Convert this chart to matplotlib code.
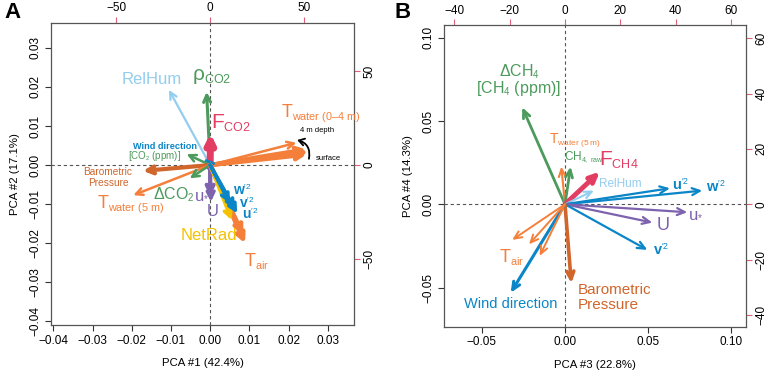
import matplotlib
matplotlib.use("Agg")
import matplotlib.pyplot as plt
import numpy as np
try:
    import matplotlib._mathtext as _mt
    _mt.SHRINK_FACTOR = 0.6
except Exception:
    pass

plt.rcParams['font.family'] = ['Liberation Sans', 'DejaVu Sans']
plt.rcParams['mathtext.fontset'] = 'custom'
plt.rcParams['mathtext.rm'] = 'Liberation Sans'
plt.rcParams['mathtext.it'] = 'Liberation Sans:italic'
plt.rcParams['mathtext.bf'] = 'Liberation Sans:bold'

GREEN = '#4c9a5c'
CRIM = '#e23d62'
ORANGE = '#f47f3a'
BROWN = '#d0662c'
LBLUE = '#93cdef'
BLUE = '#0a86c8'
PURPLE = '#7d62ad'
YELLOW = '#f5c200'
TICKRED = '#e0607a'

# ---------------- Panel A data (PCA #1 vs PCA #2) ----------------
a_names = ['RelHum', 'rhoCO2', 'FCO2', 'Twater_4m', 'Twater_s1', 'Twater_s2', 'Twater_s3',
           'WindDir', 'CO2ppm', 'Baro', 'Twater5', 'dCO2', 'U', 'ustar',
           'Tair1', 'Tair2', 'NetRad', 'w2', 'v2', 'u2']
a_x = [-0.0105, -0.0009, 0.0001, 0.0220, 0.0245, 0.0250, 0.0246,
       -0.0016, -0.0060, -0.0171, -0.0196, -0.0052, 0.0000, 0.0002,
       0.0084, 0.0089, 0.0055, 0.0050, 0.0063, 0.0069]
a_y = [0.0192, 0.0187, 0.0081, 0.0057, 0.0040, 0.0034, 0.0027,
       0.0017, 0.0028, -0.0015, -0.0077, -0.0034, -0.0080, -0.0094,
       -0.0179, -0.0200, -0.0141, -0.0098, -0.0113, -0.0124]
a_col = [LBLUE, GREEN, CRIM, ORANGE, ORANGE, ORANGE, ORANGE,
         BLUE, GREEN, BROWN, ORANGE, GREEN, PURPLE, PURPLE,
         ORANGE, ORANGE, YELLOW, BLUE, BLUE, BLUE]
a_lw = [1.6, 2.2, 5.0, 1.8, 3.2, 3.2, 3.2,
        2.2, 1.8, 3.0, 1.8, 1.8, 3.0, 2.4,
        3.4, 3.4, 2.6, 2.6, 2.6, 2.6]

# ---------------- Panel B data (PCA #3 vs PCA #4) ----------------
b_names = ['dCH4', 'Twater5', 'CH4raw', 'FCH4', 'RelHum', 'u2', 'w2', 'ustar', 'U', 'v2',
           'Baro', 'WindDir', 'Tair1', 'Tair2', 'Tair3']
b_x = [-0.0257, -0.0022, 0.0034, 0.0210, 0.0174, 0.0631, 0.0825, 0.0735, 0.0525, 0.0495,
       0.0038, -0.0326, -0.0317, -0.0216, -0.0152]
b_y = [0.0582, 0.0226, 0.0226, 0.0196, 0.0082, 0.0096, 0.0082, -0.0048, -0.0110, -0.0274,
       -0.0474, -0.0531, -0.0214, -0.0240, -0.0310]
b_col = [GREEN, ORANGE, GREEN, CRIM, LBLUE, BLUE, BLUE, PURPLE, PURPLE, BLUE,
         BROWN, BLUE, ORANGE, ORANGE, ORANGE]
b_lw = [2.0, 1.5, 2.0, 3.5, 1.5, 1.6, 1.6, 1.6, 1.6, 1.6,
        2.6, 2.2, 1.4, 1.4, 1.4]

a_xticks = [-0.04, -0.03, -0.02, -0.01, 0.00, 0.01, 0.02, 0.03]
a_yticks = [-0.04, -0.03, -0.02, -0.01, 0.00, 0.01, 0.02, 0.03]
a_sec_ticks = [-50, 0, 50]
b_xticks = [-0.05, 0.00, 0.05, 0.10]
b_yticks = [-0.05, 0.00, 0.05, 0.10]
b_sec_ticks = [-40, -20, 0, 20, 40, 60]

A_FACTOR = 2085.0
B_FACTOR = 602.0

fig = plt.figure(figsize=(7.68, 3.76), dpi=100)
axA = fig.add_axes([51/768, 1-325/376, (354-51)/768, (325-22.7)/376])
axB = fig.add_axes([444/768, 1-326.7/376, (745.7-444)/768, (326.7-25)/376])


def style(ax, xlim, ylim, xt, yt, fmt, factor, sec_ticks, xlabel, ylabel):
    ax.set_xlim(*xlim)
    ax.set_ylim(*ylim)
    ax.set_xticks(xt)
    ax.set_yticks(yt)
    ax.set_xticklabels([fmt(v) for v in xt], fontsize=8.5)
    ax.set_yticklabels([fmt(v) for v in yt], fontsize=8.5, rotation=90, va='center')
    ax.tick_params(direction='out', length=4, width=0.8, color='#333333', pad=3)
    for s in ax.spines.values():
        s.set_color('#555555')
        s.set_linewidth(0.9)
    ax.axhline(0, color='#555555', lw=0.8, ls=(0, (3, 2.5)), zorder=0)
    ax.axvline(0, color='#555555', lw=0.8, ls=(0, (3, 2.5)), zorder=0)
    ax.set_xlabel(xlabel, fontsize=8.2, labelpad=8)
    ax.set_ylabel(ylabel, fontsize=8.2, labelpad=7)
    secx = ax.secondary_xaxis('top', functions=(lambda v: v*factor, lambda v: v/factor))
    secx.set_xticks(sec_ticks)
    secx.set_xticklabels([('\u2212%d' % -t) if t < 0 else '%d' % t for t in sec_ticks], fontsize=8.5)
    secx.tick_params(direction='out', length=4, width=0.8, color=TICKRED, pad=2)
    secx.spines['top'].set_visible(False)
    secy = ax.secondary_yaxis('right', functions=(lambda v: v*factor, lambda v: v/factor))
    secy.set_yticks(sec_ticks)
    secy.set_yticklabels([('\u2212%d' % -t) if t < 0 else '%d' % t for t in sec_ticks],
                         fontsize=8.5, rotation=90, va='center')
    secy.tick_params(direction='out', length=4, width=0.8, color=TICKRED, pad=3)
    secy.spines['right'].set_visible(False)


def fmtA(v):
    s = '%.2f' % v
    return s.replace('-', '\u2212')


style(axA, (-0.0406, 0.0367), (-0.0409, 0.0364), a_xticks, a_yticks, fmtA, A_FACTOR,
      a_sec_ticks, 'PCA #1 (42.4%)', 'PCA #2 (17.1%)')
style(axB, (-0.0727, 0.1086), (-0.0735, 0.1076), b_xticks, b_yticks, fmtA, B_FACTOR,
      b_sec_ticks, 'PCA #3 (22.8%)', 'PCA #4 (14.3%)')


def draw_arrows(ax, xs, ys, cols, lws, hl, hw):
    for x, y, c, lw in zip(xs, ys, cols, lws):
        ax.annotate('', xy=(x, y), xytext=(0, 0),
                    arrowprops=dict(arrowstyle='->,head_length=%g,head_width=%g' % (hl, hw),
                                    color=c, lw=lw, shrinkA=0, shrinkB=0), zorder=3)


draw_arrows(axA, a_x, a_y, a_col, a_lw, 0.5, 0.25)
draw_arrows(axB, b_x, b_y, b_col, b_lw, 0.55, 0.25)


def lab(px, py, s, c, fs, **kw):
    # place text by pixel location in figure (top-left origin)
    fig.text(px/768, 1-py/376, s, color=c, fontsize=fs,
             ha=kw.pop('ha', 'center'), va=kw.pop('va', 'center'), **kw)

# ---------- Panel A labels ----------
lab(151.7, 79, 'RelHum', LBLUE, 12)
lab(212, 77, r'$\mathrm{\rho}_{\mathrm{CO2}}$', GREEN, 15)
lab(231, 123, r'$\mathrm{F}_{\mathrm{CO2}}$', CRIM, 15)
lab(321, 113, r'$\mathrm{T}_{\mathrm{water\ (0–4\ m)}}$', ORANGE, 13)
lab(317, 130.7, '4 m depth', 'black', 5.5)
lab(328, 158, 'surface', 'black', 5.5)
axA.annotate('', xy=(0.0222, 0.0064), xytext=(0.0252, 0.0016),
             arrowprops=dict(arrowstyle='->,head_length=0.4,head_width=0.25', color='black', lw=1.3,
                             connectionstyle='arc3,rad=0.45', shrinkA=0, shrinkB=0))
lab(165, 146.7, 'Wind direction', BLUE, 6.6, fontweight='bold')
lab(155, 155.7, r'[CO$_2$ (ppm)]', GREEN, 7)
lab(108, 172.5, 'Barometric', BROWN, 7.3)
lab(108, 182.5, 'Pressure', BROWN, 7.3)
lab(131, 204, r'$\mathrm{T}_{\mathrm{water\ (5\ m)}}$', ORANGE, 13)
lab(174, 195, r'$\mathrm{\Delta CO}_2$', GREEN, 11.5)
lab(202, 195, r'$\mathrm{u}_{*}$', PURPLE, 12)
lab(213, 212, 'U', PURPLE, 12)
lab(242, 190, r"$\mathbf{w}^{\prime 2}$", BLUE, 10)
lab(247, 203, r"$\mathbf{v}^{\prime 2}$", BLUE, 10)
lab(250, 214, r"$\mathbf{u}^{\prime 2}$", BLUE, 10)
lab(209, 235, 'NetRad', YELLOW, 12)
lab(257, 261, r'$\mathrm{T}_{\mathrm{air}}$', ORANGE, 13)

# ---------- Panel B labels ----------
lab(519, 72, r'$\mathrm{\Delta CH}_4$', GREEN, 11.5)
lab(519, 88.5, r'$\mathrm{[CH}_4\mathrm{\ (ppm)]}$', GREEN, 11.5)
lab(575, 141, r'$\mathrm{T}_{\mathrm{water\ (5\ m)}}$', ORANGE, 10)
lab(584, 157, r'$\mathrm{CH}_{\mathrm{4,\ raw}}$', GREEN, 8.5)
lab(619, 160, r'$\mathrm{F}_{\mathrm{CH4}}$', CRIM, 15)
lab(620, 184, 'RelHum', LBLUE, 8.5)
lab(681, 185, r"$\mathbf{u}^{\prime 2}$", BLUE, 10.5)
lab(716, 187, r"$\mathbf{w}^{\prime 2}$", BLUE, 10.5)
lab(696, 213, r'$\mathrm{u}_{*}$', PURPLE, 12)
lab(663, 225, 'U', PURPLE, 13)
lab(661, 250, r"$\mathbf{v}^{\prime 2}$", BLUE, 10.5)
lab(578, 290, 'Barometric', BROWN, 11, ha='left')
lab(578, 305, 'Pressure', BROWN, 11, ha='left')
lab(511, 304, 'Wind direction', BLUE, 10.5)
lab(512, 257, r'$\mathrm{T}_{\mathrm{air}}$', ORANGE, 13)

fig.text(4/768, 1-12/376, 'A', fontsize=16, fontweight='bold', ha='left', va='center')
fig.text(394/768, 1-12/376, 'B', fontsize=16, fontweight='bold', ha='left', va='center')

fig.savefig('out.png', dpi=100)
